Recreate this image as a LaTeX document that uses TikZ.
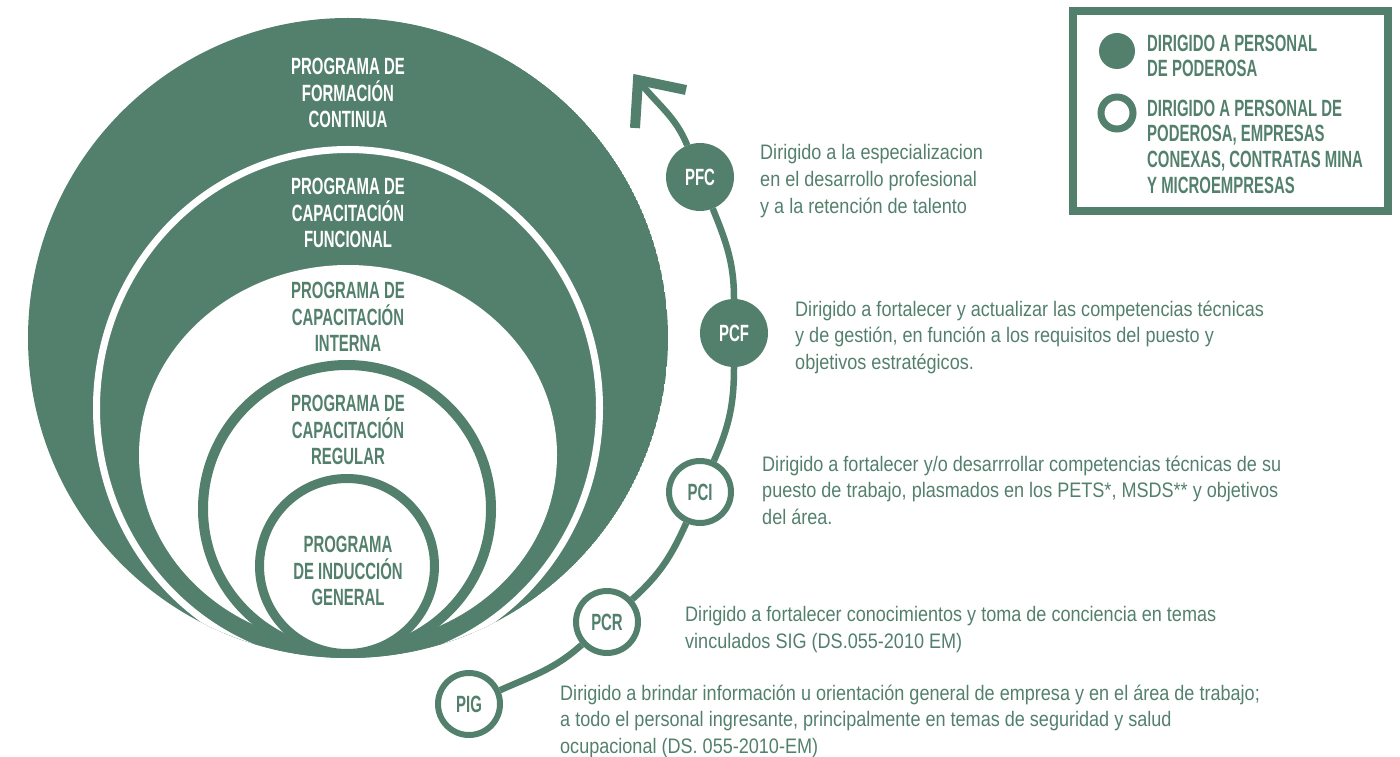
\documentclass[tikz,border=0pt]{standalone}
\usepackage{fontspec}
\setmainfont{Liberation Sans}
\newfontfamily\headfont[FakeStretch=0.635]{Liberation Sans}
\newfontfamily\descfont[FakeStretch=0.86]{Liberation Sans}
\definecolor{pgreen}{RGB}{83,128,109}

\begin{document}
\begin{tikzpicture}[x=1pt,y=1pt,
  heading/.style={align=center, inner sep=0pt, font=\headfont\bfseries\fontsize{23.5}{26.5}\selectfont},
  desc/.style={anchor=north west, align=left, inner sep=0pt, text=pgreen, font=\descfont\fontsize{21}{26.7}\selectfont},
  legendtext/.style={anchor=north west, align=left, inner sep=0pt, text=pgreen, font=\headfont\bfseries\fontsize{23.5}{25.7}\selectfont},
  stage/.style={circle, minimum size=62pt, inner sep=0pt, line width=6pt, draw=pgreen, font=\headfont\bfseries\fontsize{23.5}{26}\selectfont},
  stagefull/.style={stage, fill=pgreen, text=white},
  stageopen/.style={stage, fill=white, text=pgreen},
  track/.style={draw=pgreen, line width=6.5pt},
]
\useasboundingbox (0,0) rectangle (1400,756);

% nested programme areas, all tangent at the bottom
\begin{scope}
  \clip (348,418) circle[radius=320pt];
  \fill[pgreen] (348,418) circle[radius=320pt];
  \draw[white, line width=7pt, fill=pgreen] (348,348) ellipse[x radius=251.5pt, y radius=258.5pt];
  \fill[white] (348,301) ellipse[x radius=209pt, y radius=190pt];
  \draw[pgreen, line width=10pt, fill=white] (347,247) circle[radius=144pt];
  \draw[pgreen, line width=9pt, fill=white] (347,190) circle[radius=87.5pt];
\end{scope}

\node[heading, text=white] (tPFC) at (348,663) {PROGRAMA DE\\FORMACIÓN\\CONTINUA};
\node[heading, text=white] (tPCF) at (348,543) {PROGRAMA DE\\CAPACITACIÓN\\FUNCIONAL};
\node[heading, text=pgreen] (tPCI) at (348,439) {PROGRAMA DE\\CAPACITACIÓN\\INTERNA};
\node[heading, text=pgreen] (tPCR) at (348,326) {PROGRAMA DE\\CAPACITACIÓN\\REGULAR};
\node[heading, text=pgreen] (tPIG) at (348,185) {PROGRAMA\\DE INDUCCIÓN\\GENERAL};

% stages along the growth track
\node[stageopen] (PIG) at (469,52) {PIG};
\node[stageopen] (PCR) at (607,134) {PCR};
\node[stageopen] (PCI) at (700,264) {PCI};
\node[stagefull] (PCF) at (734,423) {PCF};
\node[stagefull] (PFC) at (700,579) {PFC};

\coordinate (tip) at (638,676);
\coordinate (armA) at (635,628);
\coordinate (armB) at (686,666);

\draw[track] (PIG) to[out=24,in=222] (PCR);
\draw[track] (PCR) to[out=42,in=246] (PCI);
\draw[track] (PCI) to[out=66,in=270] (PCF);
\draw[track] (PCF) to[out=90,in=292] (PFC);
\draw[track] (PFC) to[out=112,in=308] (tip);
\draw[pgreen, line width=10pt, miter limit=10] (armA) -- (tip) -- (armB);

% descriptions
\node[desc] (dPFC) at (760,611.5) {Dirigido a la especializacion\\en el desarrollo profesional\\y a la retención de talento};
\node[desc] (dPCF) at (795,455.5) {Dirigido a fortalecer y actualizar las competencias técnicas\\y de gestión, en función a los requisitos del puesto y\\objetivos estratégicos.};
\node[desc] (dPCI) at (762,300.5) {Dirigido a fortalecer y/o desarrrollar competencias técnicas de su\\puesto de trabajo, plasmados en los PETS*, MSDS** y objetivos\\del área.};
\node[desc] (dPCR) at (685,149.5) {Dirigido a fortalecer conocimientos y toma de conciencia en temas\\vinculados SIG (DS.055-2010 EM)};
\node[desc] (dPIG) at (560,71.5) {Dirigido a brindar información u orientación general de empresa y en el área de trabajo;\\a todo el personal ingresante, principalmente en temas de seguridad y salud\\ocupacional (DS. 055-2010-EM)};

% legend
\node[draw=pgreen, line width=8pt, minimum width=315pt, minimum height=200pt, inner sep=0pt] (legend) at (1230.5,645) {};
\node[circle, fill=pgreen, minimum size=36pt, inner sep=0pt] (keyfull) at (1117,705) {};
\node[circle, draw=pgreen, line width=7pt, fill=white, minimum size=32pt, inner sep=0pt] (keyopen) at (1117,643) {};
\node[legendtext] (lfull) at (1147,721.4) {DIRIGIDO A PERSONAL\\DE PODEROSA};
\node[legendtext] (lopen) at (1147,656.4) {DIRIGIDO A PERSONAL DE\\PODEROSA, EMPRESAS\\CONEXAS, CONTRATAS MINA\\Y MICROEMPRESAS};
\end{tikzpicture}
\end{document}
